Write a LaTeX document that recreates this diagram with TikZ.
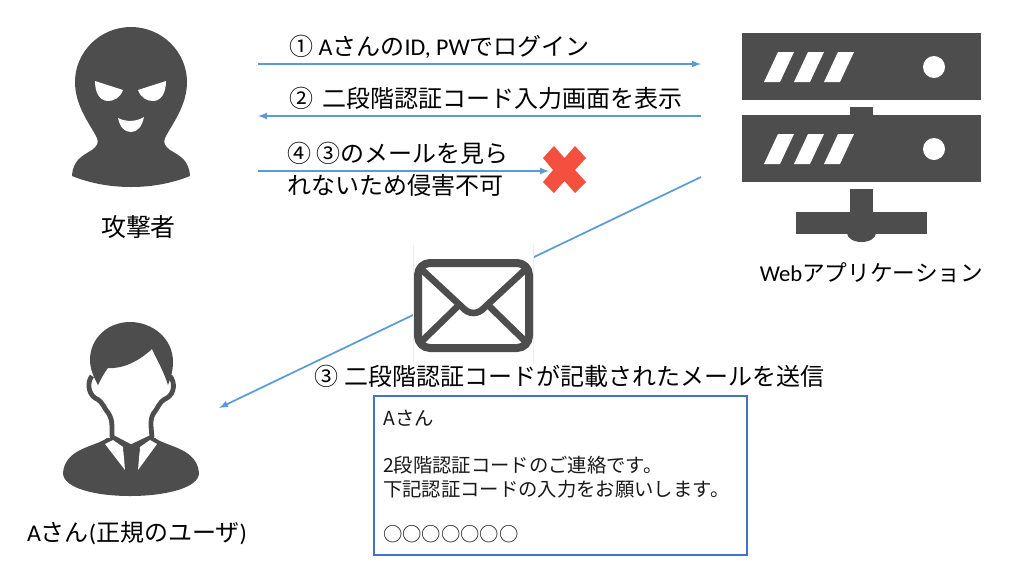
\documentclass[tikz,border=0pt]{standalone}
\usepackage{fontspec}
\setmainfont{Carlito}
\newfontfamily\cjk{Noto Sans CJK JP}
\newcommand{\J}[1]{{\cjk #1}}
\definecolor{icongray}{HTML}{4D4D4D}
\definecolor{linkblue}{HTML}{5B9BD5}
\definecolor{boxblue}{HTML}{4472C4}
\definecolor{crossred}{HTML}{F44F3F}
\usetikzlibrary{arrows}

\begin{document}
\begin{tikzpicture}[x=0.75pt,y=-0.75pt]
\tikzstyle{Link}=[draw=linkblue,line width=1.3pt,-latex]
\tikzstyle{Icon}=[fill=icongray,draw=none]
\tikzstyle{Hole}=[fill=white,draw=none]
\tikzstyle{Big}=[inner sep=0pt,text=black,font=\fontsize{18pt}{24pt}\selectfont]
\tikzstyle{Small}=[inner sep=0pt,text=black!90,font=\fontsize{14.5pt}{23pt}\selectfont]

\useasboundingbox (0,0) rectangle (1015,583);

% connectors
\coordinate (l1a) at (258,64);
\coordinate (l1b) at (701,64);
\coordinate (l2a) at (701,116);
\coordinate (l2b) at (258,116);
\coordinate (l4a) at (258,171);
\coordinate (l4b) at (549,171);
\coordinate (l3a) at (701,177);
\coordinate (l3b) at (219,408);

\draw[Link] (l1a) -- (l1b);
\draw[Link] (l2a) -- (l2b);
\draw[Link] (l4a) -- (l4b);
\draw[Link] (l3a) -- (l3b);

% attacker
\fill[Icon] (131,27) .. controls (162,27) and (187,52) .. (187,82)
  .. controls (187,106) and (172,124) .. (165,138)
  .. controls (163,143) and (165,146) .. (170,150)
  .. controls (180,156) and (189,160) .. (190,176)
  .. controls (170,184) and (150,187) .. (131,187)
  .. controls (112,187) and (92,184) .. (72,176)
  .. controls (73,160) and (82,156) .. (92,150)
  .. controls (97,146) and (99,143) .. (97,138)
  .. controls (90,124) and (75,106) .. (75,82)
  .. controls (75,52) and (100,27) .. (131,27) -- cycle;
\fill[Hole] (95,81) -- (123,90) .. controls (120,98) and (114,101) .. (108,101)
  .. controls (100,101) and (95,93) .. (95,81) -- cycle;
\fill[Hole] (166,81) -- (138,90) .. controls (141,98) and (147,101) .. (153,101)
  .. controls (161,101) and (166,93) .. (166,81) -- cycle;
\fill[Hole] (118,118) .. controls (126,122) and (136,122) .. (144,117)
  .. controls (142,127) and (137,132) .. (131,132)
  .. controls (124,132) and (120,127) .. (118,118) -- cycle;

% server
\fill[Icon] (742,33) rectangle (981,100);
\fill[Icon] (742,115) rectangle (981,182);
\fill[Icon] (850,107) rectangle (873,115);
\fill[Icon] (850,189) rectangle (873,215);
\fill[Icon] (796,212) rectangle (927,234);
\fill[Icon] (847,233) arc[start angle=180,end angle=0,x radius=14.5,y radius=9] -- cycle;
\foreach \rowy in {52,134}{
  \foreach \barx in {764,794,824}{
    \fill[Hole] (\barx,\rowy+30) -- (\barx+16,\rowy+30) -- (\barx+30,\rowy) -- (\barx+14,\rowy) -- cycle;
  }
  \fill[Hole] (934,\rowy+15) circle[radius=11];
}

% user
\fill[Icon] (107,438) .. controls (95,447) and (65,448) .. (63,473)
  .. controls (63,488) and (95,496) .. (130,496)
  .. controls (165,496) and (199,488) .. (199,473)
  .. controls (197,448) and (167,447) .. (155,438) -- cycle;
\fill[Hole] (112,437) -- (106,410) -- (95,398) -- (95,370) -- (166,370)
  -- (166,398) -- (156,410) -- (152,437) -- (131,447) -- cycle;
\draw[draw=icongray,line width=3.6pt,line join=round] (92,376)
  .. controls (87,382) and (88,393) .. (95,398)
  .. controls (100,400) and (102,403) .. (106,410)
  .. controls (113,418) and (112,425) .. (112,437)
  -- (131,447) -- (152,437)
  .. controls (151,425) and (149,418) .. (156,410)
  .. controls (160,403) and (162,400) .. (167,398)
  .. controls (175,393) and (175,382) .. (170,376);
\fill[Hole] (105,444) -- (113,440) -- (123,447) -- (125,470) -- cycle;
\fill[Hole] (157,444) -- (150,440) -- (140,447) -- (138,470) -- cycle;
\fill[Icon] (123,450) -- (131,446) -- (140,450) -- (136,456) -- (138,470) -- (125,470) -- (127,456) -- cycle;
\fill[Icon] (130,322) .. controls (152,322) and (173,338) .. (173,362)
  .. controls (173,370) and (171,378) .. (168,385)
  .. controls (164,372) and (158,362) .. (152,349)
  .. controls (138,362) and (122,369) .. (108,368)
  .. controls (104,373) and (101,379) .. (98,385)
  .. controls (93,376) and (90,368) .. (90,360)
  .. controls (90,338) and (108,322) .. (130,322) -- cycle;

% mail
\node[fill=white,minimum width=119*0.75pt,minimum height=120*0.75pt,inner sep=0pt] (mail) at (473.5,305) {};
\draw[black!7] (mail.north west) -- (mail.south west);
\draw[black!7] (mail.north east) -- (mail.south east);
\draw[draw=icongray,line width=6pt,rounded corners=9pt,line join=round] (418,263) rectangle (529,348);
\draw[draw=icongray,line width=5pt,line cap=round,line join=round] (420,268)
  -- (462,307) .. controls (469,315) and (478,315) .. (485,307) -- (527,268);
\draw[draw=icongray,line width=5pt] (420,343) -- (458,306);
\draw[draw=icongray,line width=5pt] (527,343) -- (489,306);

% cross
\fill[crossred] (554,146) -- (564.5,158) -- (575,146) -- (586,158) -- (575,170)
  -- (586,182) -- (575,193) -- (564.5,181) -- (554,193) -- (543,182) -- (553,170)
  -- (543,158) -- cycle;

% mail text box
\node[draw=boxblue,line width=1.1pt,fill=white,minimum width=373*0.75pt,minimum height=159*0.75pt] (body) at (560.5,475.5) {};

% labels
\node[Big,anchor=west] (t1) at (289,47) {\J{①} A\J{さんの}ID, PW\J{でログイン}};
\node[Big,anchor=west] (t2) at (289,98) {\J{②}\hspace{7pt}\J{二段階認証コード入力画面を表示}};
\node[Big,anchor=west,align=left] (t4) at (287,169) {\J{④ ③のメールを見ら}\\\J{れないため侵害不可}};
\node[Big,anchor=west] (t3) at (314,376) {\J{③}\hspace{5pt}\J{二段階認証コードが記載されたメールを送信}};
\node[Big,font=\fontsize{18.7pt}{24pt}\selectfont] (atk) at (138.5,227) {\J{攻撃者}};
\node[Big,font=\fontsize{17pt}{24pt}\selectfont] (srv) at (871.5,273) {Web\J{アプリケーション}};
\node[Big] (usr) at (137,533) {A\J{さん}(\J{正規のユーザ})};

\node[Small,anchor=west] (m1) at (383,418) {\J{Aさん}};
\node[Small,anchor=west] (m2) at (383,465) {\J{2段階認証コードのご連絡です。}};
\node[Small,anchor=west] (m3) at (383,489) {\J{下記認証コードの入力をお願いします。}};
\node[Small,anchor=west] (m4) at (383,534) {\J{○○○○○○○}};

\end{tikzpicture}
\end{document}
